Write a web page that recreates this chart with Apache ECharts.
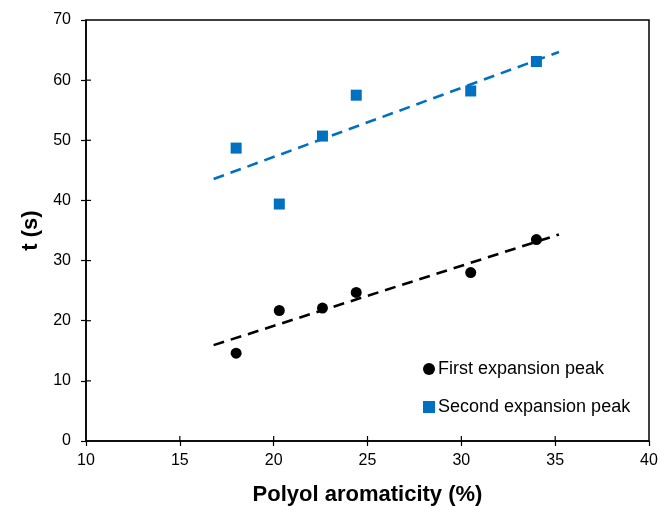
<!DOCTYPE html>
<html>
<head>
<meta charset="utf-8">
<script src="https://cdn.jsdelivr.net/npm/echarts@6/dist/echarts.min.js"></script>
<style>html,body{margin:0;padding:0;background:#fff}#c{width:660px;height:506px}</style>
</head>
<body>
<div id="c"></div>
<script>
const aromaticity = [18.0, 20.3, 22.6, 24.4, 30.5, 34.0];
const firstPeak = [14.6, 21.7, 22.1, 24.7, 28.0, 33.5];
const secondPeak = [48.7, 39.4, 50.7, 57.5, 58.2, 63.1];
const seriesNames = ['First expansion peak', 'Second expansion peak'];
const xTicks = [10, 15, 20, 25, 30, 35, 40];
const yTicks = [0, 10, 20, 30, 40, 50, 60, 70];

function fit(xs, ys) {
  const n = xs.length;
  const mx = xs.reduce((a, b) => a + b, 0) / n;
  const my = ys.reduce((a, b) => a + b, 0) / n;
  let sxy = 0, sxx = 0;
  for (let i = 0; i < n; i++) { sxy += (xs[i] - mx) * (ys[i] - my); sxx += (xs[i] - mx) ** 2; }
  const b = sxy / sxx, a = my - b * mx;
  const x0 = Math.min(...xs) - 1.2, x1 = Math.max(...xs) + 1.2;
  return [[x0, a + b * x0], [x1, a + b * x1]];
}

const font = 'Liberation Sans, Arial, sans-serif';
const tickStyle = {stroke: '#000', lineWidth: 1.2};
const chart = echarts.init(document.getElementById('c'), null, {renderer: 'canvas'});
chart.setOption({
  animation: false,
  textStyle: {fontFamily: font},
  grid: {left: 86, right: 11, top: 20, bottom: 65, show: true, borderColor: '#000', borderWidth: 1.5,
         containLabel: false, outerBoundsMode: 'none'},
  xAxis: {
    type: 'value', min: xTicks[0], max: xTicks[xTicks.length - 1], interval: 5, splitLine: {show: false},
    name: 'Polyol aromaticity (%)', nameLocation: 'middle', nameGap: 43,
    nameTextStyle: {fontSize: 22, fontWeight: 'bold', color: '#000', fontFamily: font},
    axisLine: {lineStyle: {color: '#000', width: 1.5}},
    axisTick: {show: true, length: 5, lineStyle: {color: '#000', width: 1.2}},
    axisLabel: {fontSize: 16, color: '#000', margin: 12, fontFamily: font}
  },
  yAxis: {
    type: 'value', min: yTicks[0], max: yTicks[yTicks.length - 1], interval: 10, splitLine: {show: false},
    name: 't (s)', nameLocation: 'middle', nameGap: 37, nameRotate: 90,
    nameTextStyle: {fontSize: 22, fontWeight: 'bold', color: '#000', fontFamily: font},
    axisLine: {show: true, lineStyle: {color: '#000', width: 1.5}},
    axisTick: {show: true, length: 5, lineStyle: {color: '#000', width: 1.2}},
    axisLabel: {fontSize: 16, color: '#000', margin: 15, fontFamily: font}
  },
  legend: {
    data: [{name: seriesNames[0], icon: 'circle'}, {name: seriesNames[1], icon: 'rect'}],
    orient: 'vertical', left: 418, top: 355, itemGap: 20, itemWidth: 12, itemHeight: 12,
    itemStyle: {borderWidth: 0},
    textStyle: {fontSize: 18, color: '#000', fontFamily: font, padding: [0, 0, 0, -2]}
  },
  series: [
    {
      type: 'custom', silent: true, z: 4, clip: false,
      data: xTicks.slice(1, -1).map(x => [x, yTicks[0]]),
      renderItem: function (params, api) {
        const p = api.coord([api.value(0), api.value(1)]);
        return {type: 'line', shape: {x1: p[0], y1: p[1], x2: p[0], y2: p[1] - 5}, style: tickStyle};
      }
    },
    {
      type: 'custom', silent: true, z: 4, clip: false,
      data: yTicks.slice(1, -1).map(y => [xTicks[0], y]),
      renderItem: function (params, api) {
        const p = api.coord([api.value(0), api.value(1)]);
        return {type: 'line', shape: {x1: p[0], y1: p[1], x2: p[0] + 5, y2: p[1]}, style: tickStyle};
      }
    },
    {
      name: seriesNames[0] + ' trend', type: 'line', data: fit(aromaticity, firstPeak),
      showSymbol: false, silent: true, z: 1,
      lineStyle: {color: '#000', width: 2.6, type: [11, 7]}
    },
    {
      name: seriesNames[1] + ' trend', type: 'line', data: fit(aromaticity, secondPeak),
      showSymbol: false, silent: true, z: 1,
      lineStyle: {color: '#0070C0', width: 2.6, type: [11, 7]}
    },
    {
      name: seriesNames[0], type: 'scatter', symbol: 'circle', symbolSize: 11, z: 3,
      itemStyle: {color: '#000', opacity: 1},
      data: aromaticity.map((x, i) => [x, firstPeak[i]])
    },
    {
      name: seriesNames[1], type: 'scatter', symbol: 'rect', symbolSize: 11, z: 3,
      itemStyle: {color: '#0070C0', opacity: 1},
      data: aromaticity.map((x, i) => [x, secondPeak[i]])
    }
  ]
});
</script>
</body>
</html>
